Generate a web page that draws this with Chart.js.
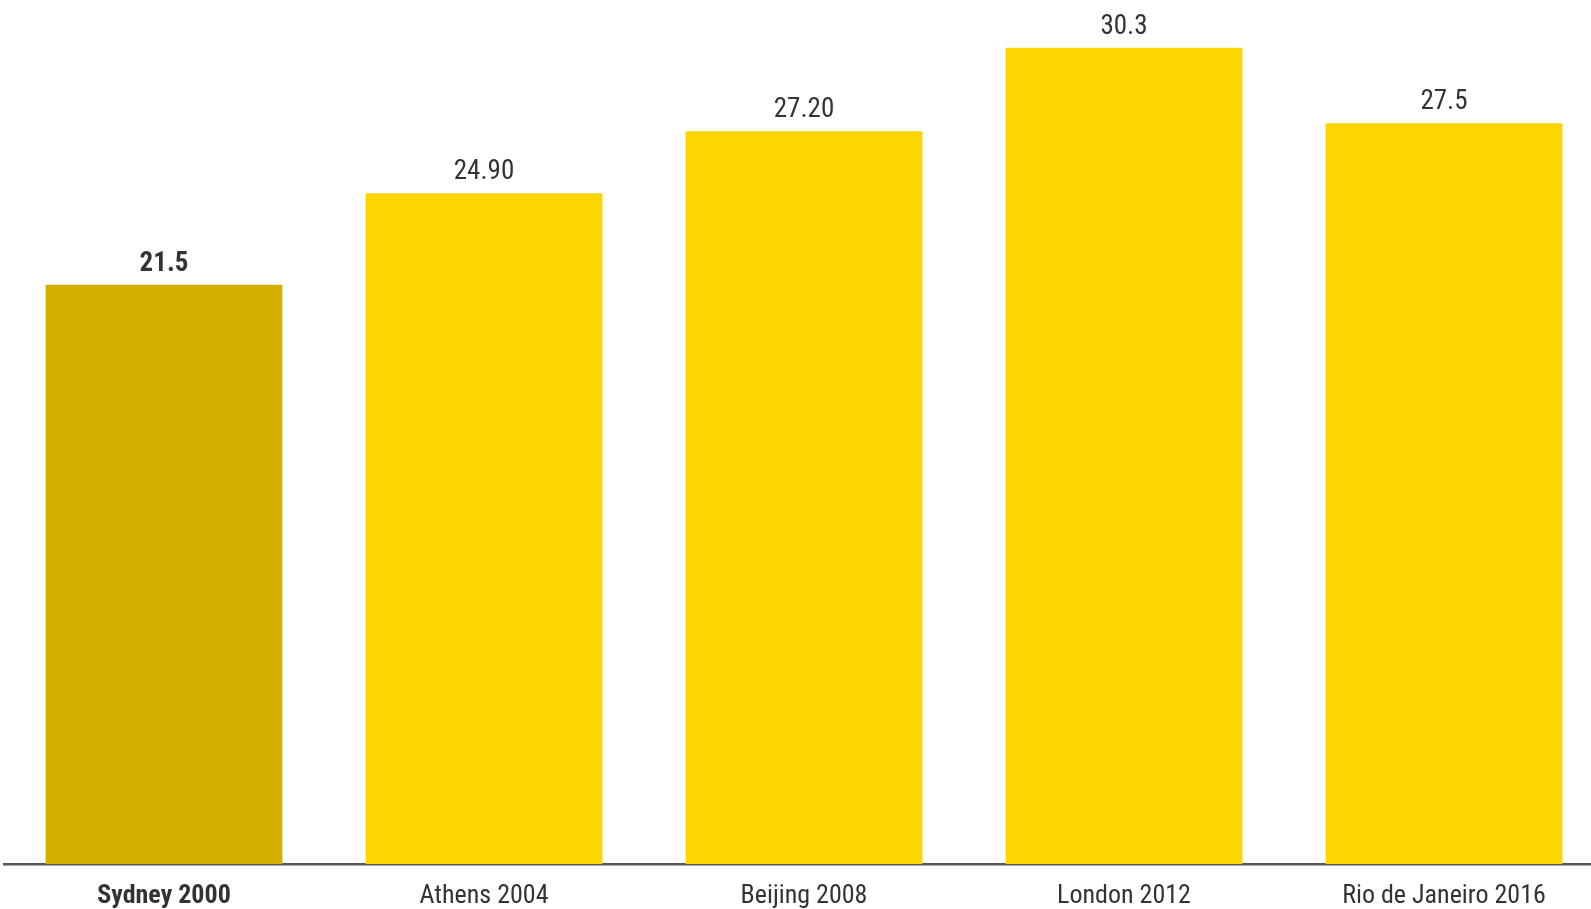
<!DOCTYPE html>
<html>
<head>
<meta charset="utf-8">
<script src="https://cdn.jsdelivr.net/npm/chart.js@4.4.1/dist/chart.umd.min.js"></script>
<style>
    html, body { margin: 0; padding: 0; background: #fff; overflow: hidden; }
    #wrap { width: 1604px; height: 909px; position: relative; }
</style>
</head>
<body>
<div id="wrap"><canvas id="barChart"></canvas></div>
<script>
// 数据
const games = ['Sydney 2000', 'Athens 2004', 'Beijing 2008', 'London 2012', 'Rio de Janeiro 2016'];
const values = [21.5, 24.9, 27.2, 30.3, 27.5];
const valueLabels = ['21.5', '24.90', '27.20', '30.3', '27.5'];
const barColors = ['#D3B000', '#FFD500', '#FFD500', '#FFD500', '#FFD500'];

const fontFamily = "'Roboto Condensed', 'Liberation Sans Narrow', 'Arial Narrow', 'DejaVu Sans Condensed', Roboto, sans-serif";

// 柱顶数值
const valueLabelPlugin = {
    id: 'valueLabels',
    afterDatasetsDraw(chart) {
        const ctx = chart.ctx;
        const meta = chart.getDatasetMeta(0);
        ctx.save();
        ctx.fillStyle = '#333';
        ctx.textAlign = 'center';
        ctx.textBaseline = 'alphabetic';
        meta.data.forEach((bar, i) => {
            ctx.font = (i === 0 ? 'bold ' : '') + '27px ' + fontFamily;
            ctx.fillText(valueLabels[i], bar.x, bar.y - 14);
        });
        ctx.restore();
    }
};

const ctx = document.getElementById('barChart').getContext('2d');
new Chart(ctx, {
    type: 'bar',
    data: {
        labels: games,
        datasets: [{
            data: values,
            backgroundColor: barColors,
            borderWidth: 0,
            categoryPercentage: 1,
            barPercentage: 0.74
        }]
    },
    options: {
        responsive: true,
        maintainAspectRatio: false,
        animation: false,
        layout: { padding: { top: 2, left: 4, right: 0, bottom: 0 } },
        plugins: {
            legend: { display: false },
            tooltip: { enabled: false }
        },
        scales: {
            x: {
                grid: { display: false },
                border: { display: true, color: '#555', width: 2.5 },
                afterFit: (scale) => { scale.height = 45; },
                ticks: {
                    color: '#333',
                    padding: 9,
                    maxRotation: 0,
                    autoSkip: false,
                    font: (c) => ({
                        family: fontFamily,
                        size: 26,
                        weight: c.index === 0 ? 'bold' : 'normal'
                    })
                }
            },
            y: {
                display: false,
                min: 0,
                max: 32
            }
        }
    },
    plugins: [valueLabelPlugin]
});
</script>
</body>
</html>
